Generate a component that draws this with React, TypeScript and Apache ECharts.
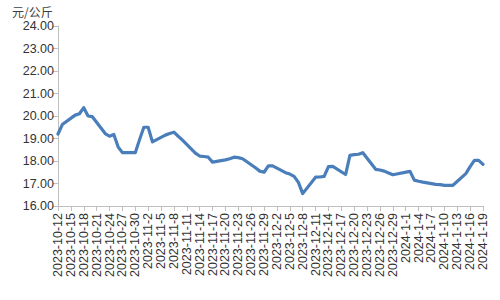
import React, { useEffect, useRef } from "react";
import * as echarts from "echarts";

// Category dates: daily from 2023-10-12 to 2024-01-19
const startDate = { y: 2023, m: 10, d: 12 };
const dayCount = 100;
const categories: string[] = (() => {
  const out: string[] = [];
  const base = new Date(Date.UTC(startDate.y, startDate.m - 1, startDate.d));
  for (let i = 0; i < dayCount; i++) {
    const t = new Date(base.getTime() + i * 86400000);
    out.push(`${t.getUTCFullYear()}-${t.getUTCMonth() + 1}-${t.getUTCDate()}`);
  }
  return out;
})();

// Price (元/公斤); null = no record (weekend / holiday)
const prices: (number | null)[] = [
  19.2, 19.62, null, null, 20.04, 20.1, 20.37, 20.0, 19.97, null,
  null, 19.22, 19.1, 19.18, 18.63, 18.37, null, null, 18.37, 18.95,
  19.5, 19.5, 18.85, null, null, 19.15, 19.22, 19.28, 19.1, 18.93,
  null, null, 18.35, 18.22, 18.2, 18.17, 17.95, null, null, 18.05,
  18.1, 18.17, 18.15, 18.1, null, null, 17.7, 17.55, 17.5, 17.78,
  17.78, null, null, 17.48, 17.42, 17.32, 17.05, 16.55, null, null,
  17.28, 17.29, 17.32, 17.75, 17.76, null, null, 17.4, 18.25, 18.28,
  18.3, 18.37, null, null, 17.63, 17.6, 17.55, 17.47, 17.39, null,
  null, null, 17.54, 17.15, 17.1, 17.06, null, null, 16.96, 16.95,
  16.92, 16.92, 16.92, null, null, 17.44, 17.75, 18.03, 18.03, 17.85,
];

const yMin = 16;
const yMax = 24;
const yStep = 1;
const unitLabel = "元/公斤";

export default function App() {
  const ref = useRef<HTMLDivElement>(null);
  useEffect(() => {
    if (!ref.current) return;
    const chart = echarts.init(ref.current, null, { renderer: "svg" });
    const font = "'Liberation Sans', Arial, 'Noto Sans CJK SC', sans-serif";
    chart.setOption({
      animation: false,
      backgroundColor: "#ffffff",
      title: {
        text: unitLabel,
        left: 12,
        top: 5,
        padding: 0,
        textStyle: {
          fontSize: 12,
          lineHeight: 13,
          fontWeight: "normal",
          color: "#404040",
          fontFamily: "'Noto Sans CJK SC', sans-serif",
        },
      },
      grid: { left: 58, right: 17, top: 26, bottom: 94, containLabel: false },
      xAxis: {
        type: "category",
        data: categories,
        boundaryGap: false,
        axisLine: { lineStyle: { color: "#bfbfbf", width: 1 } },
        axisTick: { interval: 2, length: 5, lineStyle: { color: "#bfbfbf" } },
        axisLabel: {
          interval: 2,
          rotate: 90,
          margin: 7,
          fontSize: 12.5,
          color: "#333333",
          fontFamily: font,
        },
        splitLine: { show: false },
      },
      yAxis: {
        type: "value",
        min: yMin,
        max: yMax,
        interval: yStep,
        axisLine: { show: true, lineStyle: { color: "#bfbfbf", width: 1 } },
        axisTick: { show: true, length: 5, lineStyle: { color: "#bfbfbf" } },
        axisLabel: {
          fontSize: 12.5,
          color: "#333333",
          fontFamily: font,
          margin: 4,
          formatter: (v: number) => v.toFixed(2),
        },
        splitLine: { show: false },
      },
      series: [
        {
          type: "line",
          data: prices,
          connectNulls: true,
          symbol: "none",
          lineStyle: { color: "#4A7EBB", width: 3.2, cap: "round", join: "round" },
          itemStyle: { color: "#4A7EBB" },
        },
      ],
    });
    return () => chart.dispose();
  }, []);
  return (
    <div
      ref={ref}
      style={{ position: "absolute", left: 0, top: 0, width: 500, height: 300 }}
    />
  );
}
